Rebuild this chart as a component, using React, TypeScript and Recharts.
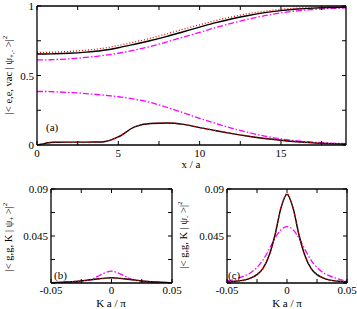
import React from "react";
import { LineChart, Line, XAxis, YAxis } from "recharts";

// panel (a): position along the chain
const xPos = [0, 0.5, 1, 2, 3, 4, 5, 6, 7, 8, 9, 10, 11, 12, 13, 14, 15, 16, 17, 18, 19];
const upperBlack = [0.655, 0.655, 0.656, 0.66, 0.668, 0.68, 0.7, 0.725, 0.752, 0.782, 0.815, 0.848, 0.88, 0.908, 0.932, 0.952, 0.967, 0.978, 0.985, 0.989, 0.991];
const upperRed = [0.667, 0.667, 0.668, 0.673, 0.682, 0.695, 0.716, 0.741, 0.769, 0.8, 0.833, 0.865, 0.896, 0.922, 0.945, 0.962, 0.976, 0.985, 0.99, 0.993, 0.995];
const upperMagenta = [0.612, 0.612, 0.614, 0.62, 0.63, 0.643, 0.66, 0.683, 0.71, 0.742, 0.776, 0.81, 0.845, 0.877, 0.905, 0.93, 0.95, 0.965, 0.975, 0.982, 0.986];
const lowerMagenta = [0.385, 0.385, 0.383, 0.378, 0.37, 0.36, 0.347, 0.33, 0.305, 0.27, 0.232, 0.192, 0.155, 0.12, 0.09, 0.064, 0.044, 0.03, 0.02, 0.014, 0.01];
const lowerBlack = [0, 0.012, 0.02, 0.021, 0.021, 0.022, 0.058, 0.13, 0.155, 0.158, 0.148, 0.125, 0.103, 0.082, 0.063, 0.047, 0.034, 0.023, 0.015, 0.01, 0.006];
const lowerRed = [0, 0.012, 0.02, 0.021, 0.021, 0.022, 0.059, 0.131, 0.156, 0.159, 0.149, 0.126, 0.104, 0.083, 0.064, 0.048, 0.035, 0.024, 0.016, 0.011, 0.007];

// panels (b) and (c): momentum
const kPos = [-0.05, -0.045, -0.04, -0.035, -0.03, -0.025, -0.02, -0.015, -0.01, -0.005, 0, 0.005, 0.01, 0.015, 0.02, 0.025, 0.03, 0.035, 0.04, 0.045, 0.05];
const bBlack = [0.0003, 0.0005, 0.0008, 0.0011, 0.0015, 0.002, 0.0027, 0.0034, 0.0041, 0.0047, 0.005, 0.0047, 0.0041, 0.0034, 0.0027, 0.002, 0.0015, 0.0011, 0.0008, 0.0005, 0.0003];
const bRed = [0.0003, 0.0005, 0.0008, 0.0011, 0.0015, 0.002, 0.0027, 0.0034, 0.0041, 0.0047, 0.005, 0.0047, 0.0041, 0.0034, 0.0027, 0.002, 0.0015, 0.0011, 0.0008, 0.0005, 0.0003];
const bMagenta = [0.0001, 0.0002, 0.0003, 0.0005, 0.0009, 0.0015, 0.0025, 0.0043, 0.0072, 0.0099, 0.0113, 0.0099, 0.0072, 0.0043, 0.0025, 0.0015, 0.0009, 0.0005, 0.0003, 0.0002, 0.0001];
const cBlack = [0.001, 0.0015, 0.002, 0.003, 0.005, 0.008, 0.014, 0.026, 0.046, 0.072, 0.085, 0.072, 0.046, 0.026, 0.014, 0.008, 0.005, 0.003, 0.002, 0.0015, 0.001];
const cRed = [0.001, 0.0015, 0.002, 0.003, 0.005, 0.008, 0.014, 0.026, 0.046, 0.072, 0.0855, 0.072, 0.046, 0.026, 0.014, 0.008, 0.005, 0.003, 0.002, 0.0015, 0.001];
const cMagenta = [0.002, 0.003, 0.005, 0.007, 0.01, 0.015, 0.022, 0.032, 0.043, 0.051, 0.054, 0.051, 0.043, 0.032, 0.022, 0.015, 0.01, 0.007, 0.005, 0.003, 0.002];

const topXTicks = [0, 2.5, 5, 7.5, 10, 12.5, 15, 17.5];
const topXLabels = [0, 5, 10, 15];
const topYTicks = [0, 0.25, 0.5, 0.75, 1];
const topYLabels = [0, 0.5, 1];
const kTicks = [-0.05, -0.025, 0, 0.025, 0.05];
const kLabels = [-0.05, 0, 0.05];
const probTicks = [0, 0.0225, 0.045, 0.0675, 0.09];
const probLabels = [0.045, 0.09];

const FONT = "Liberation Serif, DejaVu Serif, serif";

const topData = xPos.map((x, i) => ({
  x,
  ub: upperBlack[i],
  ur: upperRed[i],
  um: upperMagenta[i],
  lm: lowerMagenta[i],
  lb: lowerBlack[i],
  lr: lowerRed[i],
}));
const bData = kPos.map((x, i) => ({ x, k: bBlack[i], r: bRed[i], m: bMagenta[i] }));
const cData = kPos.map((x, i) => ({ x, k: cBlack[i], r: cRed[i], m: cMagenta[i] }));

type Side = "bottom" | "top" | "left" | "right";

const mkTick = (side: Side, labels: number[], len = 4, gap = 12) => (props: any) => {
  const { x, y, payload } = props;
  const v = payload.value;
  const show = labels.some((l) => Math.abs(l - v) < 1e-9);
  const txt = String(v);
  if (side === "bottom")
    return (
      <g>
        <line x1={x} y1={y} x2={x} y2={y - len} stroke="#000" strokeWidth={1} />
        {show && (
          <text x={x} y={y + gap} textAnchor="middle" fontSize={11} fontFamily={FONT} fill="#000">
            {txt}
          </text>
        )}
      </g>
    );
  if (side === "top")
    return <line x1={x} y1={y} x2={x} y2={y + len} stroke="#000" strokeWidth={1} />;
  if (side === "left")
    return (
      <g>
        <line x1={x} y1={y} x2={x + len} y2={y} stroke="#000" strokeWidth={1} />
        {show && (
          <text x={x - 3} y={y + 4} textAnchor="end" fontSize={11} fontFamily={FONT} fill="#000">
            {txt}
          </text>
        )}
      </g>
    );
  return <line x1={x} y1={y} x2={x - len} y2={y} stroke="#000" strokeWidth={1} />;
};

const frame = { stroke: "#000", strokeWidth: 1.3 };

type Series = { key: string; color: string; dash?: string; width: number };

const series3: Series[] = [
  { key: "m", color: "#ff00ff", dash: "6 2 1.5 2", width: 1.3 },
  { key: "k", color: "#000", width: 1.4 },
  { key: "r", color: "#ff0000", dash: "1 2", width: 1.3 },
];

function Panel(props: {
  data: any[];
  width: number;
  height: number;
  left: number;
  right: number;
  top: number;
  bottom: number;
  xDomain: [number, number];
  yDomain: [number, number];
  xTicks: number[];
  xLabels: number[];
  yTicks: number[];
  yLabels: number[];
  xGap: number;
  series: Series[];
}) {
  const p = props;
  return (
    <LineChart width={p.width} height={p.height} data={p.data} margin={{ top: 0, right: 0, bottom: 0, left: 0 }}>
      <XAxis
        dataKey="x"
        type="number"
        domain={p.xDomain}
        allowDataOverflow
        ticks={p.xTicks}
        interval={0}
        height={p.bottom}
        tickSize={0}
        tickMargin={0}
        tickLine={false}
        axisLine={frame}
        tick={mkTick("bottom", p.xLabels, 4, p.xGap)}
      />
      <XAxis
        xAxisId="t"
        orientation="top"
        dataKey="x"
        type="number"
        domain={p.xDomain}
        allowDataOverflow
        ticks={p.xTicks}
        interval={0}
        height={p.top}
        tickSize={0}
        tickMargin={0}
        tickLine={false}
        axisLine={frame}
        tick={mkTick("top", [])}
      />
      <YAxis
        type="number"
        domain={p.yDomain}
        allowDataOverflow
        ticks={p.yTicks}
        interval={0}
        width={p.left}
        tickSize={0}
        tickMargin={0}
        tickLine={false}
        axisLine={frame}
        tick={mkTick("left", p.yLabels)}
      />
      <YAxis
        yAxisId="r"
        orientation="right"
        type="number"
        domain={p.yDomain}
        allowDataOverflow
        ticks={p.yTicks}
        interval={0}
        width={p.right}
        tickSize={0}
        tickMargin={0}
        tickLine={false}
        axisLine={frame}
        tick={mkTick("right", [])}
      />
      {p.series.map((s) => (
        <Line
          key={s.key}
          dataKey={s.key}
          type="monotone"
          stroke={s.color}
          strokeWidth={s.width}
          strokeDasharray={s.dash}
          dot={false}
          isAnimationActive={false}
        />
      ))}
    </LineChart>
  );
}

const topSeries: Series[] = [
  { key: "um", color: "#ff00ff", dash: "6 2 1.5 2", width: 1.3 },
  { key: "lm", color: "#ff00ff", dash: "6 2 1.5 2", width: 1.3 },
  { key: "ub", color: "#000", width: 1.4 },
  { key: "lb", color: "#000", width: 1.4 },
  { key: "ur", color: "#ff0000", dash: "1 2", width: 1.3 },
  { key: "lr", color: "#ff0000", dash: "1 2", width: 1.3 },
];

const tStyle = { fontFamily: FONT, fill: "#000" } as const;

export default function App() {
  return (
    <div style={{ position: "absolute", left: 0, top: 0, width: 357, height: 309, background: "#fff" }}>
      <div style={{ position: "absolute", left: 0, top: 0 }}>
        <Panel
          data={topData}
          width={357}
          height={175}
          left={37}
          right={11}
          top={6}
          bottom={30}
          xDomain={[0, 19]}
          yDomain={[0, 1]}
          xTicks={topXTicks}
          xLabels={topXLabels}
          yTicks={topYTicks}
          yLabels={topYLabels}
          xGap={12}
          series={topSeries}
        />
      </div>
      <div style={{ position: "absolute", left: 0, top: 180 }}>
        <Panel
          data={bData}
          width={192}
          height={129}
          left={51}
          right={20}
          top={9}
          bottom={26}
          xDomain={[-0.05, 0.05]}
          yDomain={[0, 0.09]}
          xTicks={kTicks}
          xLabels={kLabels}
          yTicks={probTicks}
          yLabels={probLabels}
          xGap={11}
          series={series3}
        />
      </div>
      <div style={{ position: "absolute", left: 180, top: 180 }}>
        <Panel
          data={cData}
          width={177}
          height={129}
          left={47}
          right={10}
          top={9}
          bottom={26}
          xDomain={[-0.05, 0.05]}
          yDomain={[0, 0.09]}
          xTicks={kTicks}
          xLabels={kLabels}
          yTicks={probTicks}
          yLabels={probLabels}
          xGap={11}
          series={series3}
        />
      </div>
      <svg width={357} height={309} style={{ position: "absolute", left: 0, top: 0, pointerEvents: "none" }}>
        <text x={191} y={168} textAnchor="middle" fontSize={11} {...tStyle}>x / a</text>
        <text x={46} y={131} fontSize={11} {...tStyle}>(a)</text>
        <text x={54} y={279} fontSize={11} {...tStyle}>(b)</text>
        <text x={228} y={279} fontSize={11} {...tStyle}>(c)</text>
        <text x={111} y={307} textAnchor="middle" fontSize={11} {...tStyle}>K a / π</text>
        <text x={287} y={307} textAnchor="middle" fontSize={11} {...tStyle}>K a / π</text>
        <text transform="translate(12,75) rotate(-90)" textAnchor="middle" fontSize={10.5} {...tStyle}>
          |&lt; e,e, vac | ψ<tspan fontSize={7} dy={2}>+,-</tspan>
          <tspan dy={-2}> &gt;|</tspan>
          <tspan fontSize={7} dy={-5}>2</tspan>
        </text>
        <text transform="translate(12,237) rotate(-90)" textAnchor="middle" fontSize={10.5} {...tStyle}>
          |&lt; g,g, K | ψ<tspan fontSize={7} dy={2}>+</tspan>
          <tspan dy={-2}> &gt;|</tspan>
          <tspan fontSize={7} dy={-5}>2</tspan>
        </text>
        <text transform="translate(187,235) rotate(-90)" textAnchor="middle" fontSize={10.5} {...tStyle}>
          |&lt; g,g, K | ψ<tspan fontSize={7} dy={2}>-</tspan>
          <tspan dy={-2}> &gt;|</tspan>
          <tspan fontSize={7} dy={-5}>2</tspan>
        </text>
      </svg>
    </div>
  );
}
